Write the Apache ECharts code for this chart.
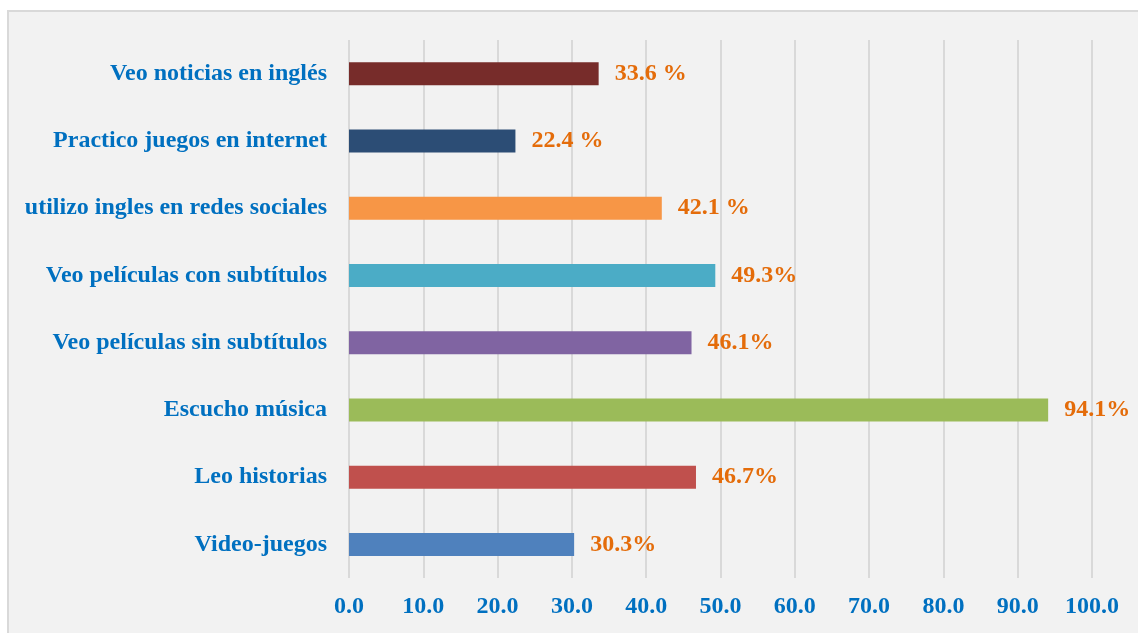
<!DOCTYPE html>
<html>
<head>
<meta charset="utf-8">
<script src="https://cdn.jsdelivr.net/npm/echarts@6/dist/echarts.min.js"></script>
<style>
  html, body { margin: 0; padding: 0; background: #ffffff; }
  #frame {
    position: absolute; left: 7px; top: 10px; width: 1131px; height: 623px;
    background: #f2f2f2; border-left: 2px solid #d9d9d9; border-top: 2px solid #d9d9d9;
    box-sizing: border-box;
  }
  #main { position: absolute; left: 0; top: 0; width: 1138px; height: 633px; }
</style>
</head>
<body>
<div id="frame"></div>
<div id="main"></div>
<script>
// categorias de arriba hacia abajo
var categories = [
  'Veo noticias en inglés',
  'Practico juegos en internet',
  'utilizo ingles en redes sociales',
  'Veo películas con subtítulos',
  'Veo películas sin subtítulos',
  'Escucho música',
  'Leo historias',
  'Video-juegos'
];
var values = [33.6, 22.4, 42.1, 49.3, 46.1, 94.1, 46.7, 30.3];
var valueLabels = ['33.6 %', '22.4 %', '42.1 %', '49.3%', '46.1%', '94.1%', '46.7%', '30.3%'];
var barColors = ['#772c2a', '#2c4d75', '#f79646', '#4bacc6', '#8064a2', '#9bbb59', '#c0504d', '#4f81bd'];

var chart = echarts.init(document.getElementById('main'));

var option = {
  backgroundColor: 'transparent',
  animation: false,
  grid: {
    left: 349,
    right: 46,
    top: 40,
    bottom: 55
  },
  xAxis: {
    type: 'value',
    min: 0,
    max: 100,
    interval: 10,
    axisLine: { show: false },
    axisTick: { show: false },
    splitLine: {
      show: true,
      lineStyle: { color: '#d9d9d9', width: 2 }
    },
    axisLabel: {
      color: '#0070c0',
      fontFamily: 'Liberation Serif',
      fontWeight: 'bold',
      fontSize: 24,
      margin: 17,
      formatter: function (v) {
        return v.toFixed(1);
      }
    }
  },
  yAxis: {
    type: 'category',
    inverse: true,
    data: categories,
    axisLine: { show: false },
    axisTick: { show: false },
    axisLabel: {
      color: '#0070c0',
      fontFamily: 'Liberation Serif',
      fontWeight: 'bold',
      fontSize: 24,
      margin: 22
    }
  },
  series: [
    {
      type: 'bar',
      barWidth: 23,
      data: values.map(function (v, i) {
        return { value: v, itemStyle: { color: barColors[i] } };
      }),
      label: {
        show: true,
        position: 'right',
        distance: 16,
        color: '#e46c0a',
        fontFamily: 'Liberation Serif',
        fontWeight: 'bold',
        fontSize: 24,
        formatter: function (p) {
          return valueLabels[p.dataIndex];
        }
      }
    }
  ]
};

chart.setOption(option);
</script>
</body>
</html>
